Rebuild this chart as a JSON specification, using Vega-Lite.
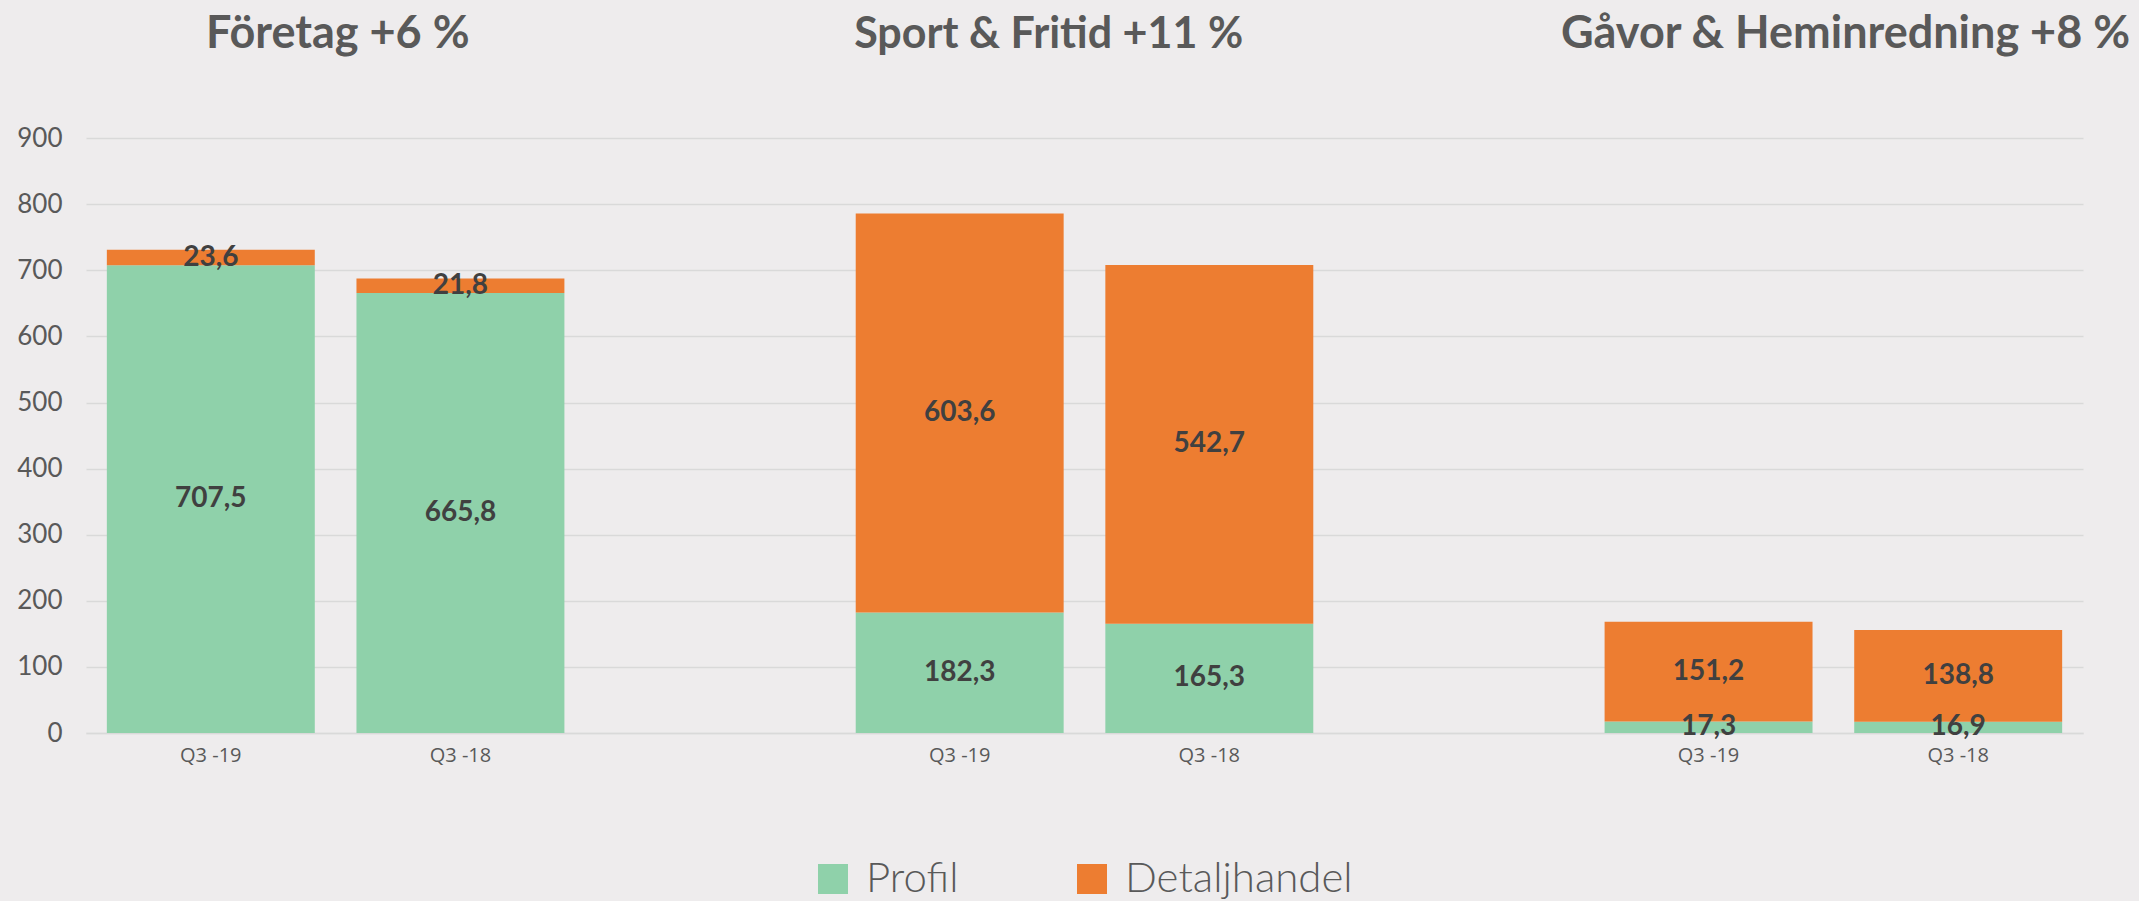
{
  "$schema": "https://vega.github.io/schema/vega-lite/v6.json",
  "width": 1997,
  "height": 733,
  "autosize": {"type": "none"},
  "padding": {"left": 86, "top": 0, "right": 56, "bottom": 168},
  "background": "#EEECED",
  "config": {
    "view": {"stroke": null},
    "locale": {"number": {"decimal": ",", "thousands": " ", "grouping": [3], "currency": ["", " kr"]}}
  },
  "data": {
    "values": [
      {"slot": "Företag|Q3 -19", "series": "Profil", "idx": 1, "value": 707.5},
      {"slot": "Företag|Q3 -19", "series": "Detaljhandel", "idx": 2, "value": 23.6},
      {"slot": "Företag|Q3 -18", "series": "Profil", "idx": 1, "value": 665.8},
      {"slot": "Företag|Q3 -18", "series": "Detaljhandel", "idx": 2, "value": 21.8},
      {"slot": "Sport & Fritid|Q3 -19", "series": "Profil", "idx": 1, "value": 182.3},
      {"slot": "Sport & Fritid|Q3 -19", "series": "Detaljhandel", "idx": 2, "value": 603.6},
      {"slot": "Sport & Fritid|Q3 -18", "series": "Profil", "idx": 1, "value": 165.3},
      {"slot": "Sport & Fritid|Q3 -18", "series": "Detaljhandel", "idx": 2, "value": 542.7},
      {"slot": "Gåvor & Heminredning|Q3 -19", "series": "Profil", "idx": 1, "value": 17.3},
      {"slot": "Gåvor & Heminredning|Q3 -19", "series": "Detaljhandel", "idx": 2, "value": 151.2},
      {"slot": "Gåvor & Heminredning|Q3 -18", "series": "Profil", "idx": 1, "value": 16.9},
      {"slot": "Gåvor & Heminredning|Q3 -18", "series": "Detaljhandel", "idx": 2, "value": 138.8}
    ]
  },
  "encoding": {
    "x": {
      "field": "slot",
      "type": "nominal",
      "sort": null,
      "scale": {
        "domain": ["Företag|Q3 -19", "Företag|Q3 -18", "gap1", "Sport & Fritid|Q3 -19", "Sport & Fritid|Q3 -18", "gap2", "Gåvor & Heminredning|Q3 -19", "Gåvor & Heminredning|Q3 -18"],
        "paddingInner": 0.167,
        "paddingOuter": 0.0835
      },
      "axis": {
        "title": null,
        "labelExpr": "indexof(datum.value, '|') >= 0 ? split(datum.value, '|')[1] : ''",
        "labelAngle": 0,
        "labelFont": "Open Sans",
        "labelFontSize": 20,
        "labelColor": "#595959",
        "labelPadding": 12,
        "ticks": false,
        "domain": true,
        "domainColor": "#D9D9D9",
        "domainWidth": 1.5,
        "grid": false
      }
    }
  },
  "layer": [
    {
      "mark": {"type": "bar"},
      "encoding": {
        "y": {
          "field": "value",
          "type": "quantitative",
          "stack": "zero",
          "scale": {"domain": [0, 1109], "nice": false, "zero": true},
          "axis": {
            "title": null,
            "values": [0, 100, 200, 300, 400, 500, 600, 700, 800, 900],
            "labelFont": "Lato",
            "labelFontSize": 26,
            "labelColor": "#595959",
            "labelPadding": 24,
            "ticks": false,
            "domain": false,
            "grid": true,
            "gridColor": "#D9D9D9",
            "gridWidth": 1.5
          }
        },
        "color": {
          "field": "series",
          "type": "nominal",
          "scale": {"domain": ["Profil", "Detaljhandel"], "range": ["#8FD1AA", "#ED7D31"]},
          "legend": {
            "title": null,
            "orient": "none",
            "direction": "horizontal",
            "legendX": 726,
            "legendY": 858,
            "padding": 0,
            "symbolType": "square",
            "symbolSize": 900,
            "symbolStrokeWidth": 0,
            "labelFont": "Lato",
            "labelFontWeight": 300,
            "labelFontSize": 42,
            "labelColor": "#595959",
            "labelOffset": 12,
            "columnPadding": 112,
            "labelLimit": 400
          }
        },
        "order": {"field": "idx", "type": "quantitative"}
      }
    },
    {
      "mark": {"type": "text", "font": "Lato", "fontWeight": "bold", "fontSize": 28, "color": "#404040", "baseline": "middle", "align": "center"},
      "encoding": {
        "y": {"field": "value", "type": "quantitative", "stack": "zero", "bandPosition": 0.5},
        "detail": {"field": "series"},
        "order": {"field": "idx", "type": "quantitative"},
        "text": {"field": "value", "type": "quantitative", "format": ".1f"}
      }
    },
    {
      "data": {"values": [{"slot": "Företag|Q3 -19", "title": "Företag +6 %"}]},
      "mark": {"type": "text", "font": "Lato", "fontWeight": "bold", "fontSize": 45, "color": "#595959", "baseline": "alphabetic", "align": "center", "dx": 23},
      "encoding": {
        "x": {"field": "slot", "type": "nominal", "bandPosition": 1},
        "y": {"datum": 1036, "type": "quantitative"},
        "text": {"field": "title"}
      }
    },
    {
      "data": {"values": [{"slot": "Sport & Fritid|Q3 -19", "title": "Sport & Fritid +11 %"}]},
      "mark": {"type": "text", "font": "Lato", "fontWeight": "bold", "fontSize": 43, "color": "#595959", "baseline": "alphabetic", "align": "center", "dx": -15},
      "encoding": {
        "x": {"field": "slot", "type": "nominal", "bandPosition": 1},
        "y": {"datum": 1036, "type": "quantitative"},
        "text": {"field": "title"}
      }
    },
    {
      "data": {"values": [{"slot": "Gåvor & Heminredning|Q3 -19", "title": "Gåvor & Heminredning +8 %"}]},
      "mark": {"type": "text", "font": "Lato", "fontWeight": "bold", "fontSize": 45, "color": "#595959", "baseline": "alphabetic", "align": "center", "dx": 33},
      "encoding": {
        "x": {"field": "slot", "type": "nominal", "bandPosition": 1},
        "y": {"datum": 1036, "type": "quantitative"},
        "text": {"field": "title"}
      }
    }
  ]
}
